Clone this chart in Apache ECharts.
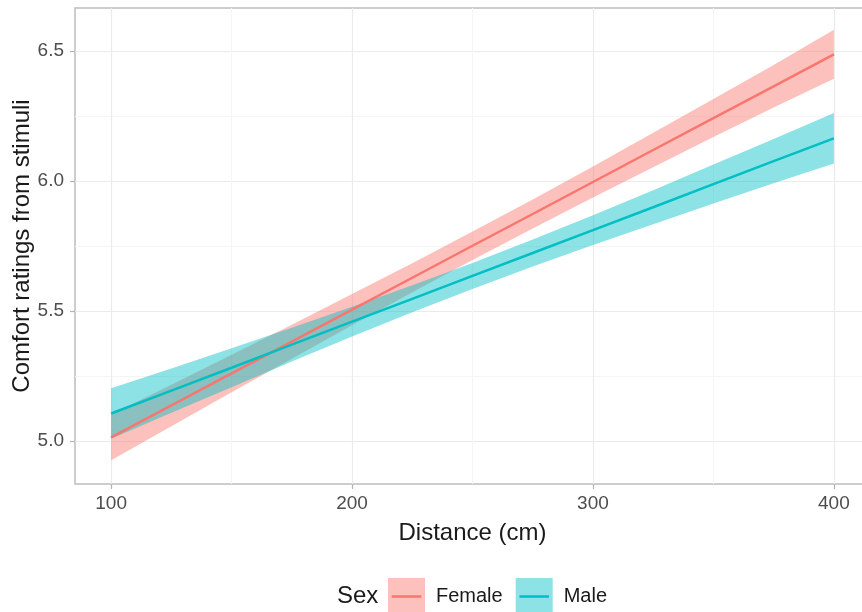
<!DOCTYPE html>
<html>
<head>
<meta charset="utf-8">
<script src="https://cdn.jsdelivr.net/npm/echarts@6/dist/echarts.min.js"></script>
<style>html,body{margin:0;padding:0;background:#fff;}#c{width:862px;height:612px;}</style>
</head>
<body>
<div id="c"></div>
<script>
// ---- data ----
var distance = [100, 125, 150, 175, 200, 225, 250, 275, 300, 325, 350, 375, 400];
var femaleFit   = [5.014, 5.137, 5.260, 5.382, 5.505, 5.628, 5.751, 5.873, 5.996, 6.119, 6.242, 6.364, 6.487];
var femaleLower = [4.926, 5.057, 5.188, 5.317, 5.445, 5.572, 5.696, 5.817, 5.936, 6.053, 6.169, 6.282, 6.393];
var femaleUpper = [5.102, 5.217, 5.332, 5.447, 5.565, 5.684, 5.806, 5.929, 6.056, 6.185, 6.315, 6.446, 6.581];
var maleFit   = [5.106, 5.194, 5.282, 5.371, 5.459, 5.547, 5.635, 5.723, 5.811, 5.899, 5.988, 6.076, 6.164];
var maleLower = [5.009, 5.109, 5.207, 5.306, 5.402, 5.495, 5.585, 5.671, 5.754, 5.834, 5.913, 5.991, 6.067];
var maleUpper = [5.203, 5.279, 5.357, 5.436, 5.516, 5.599, 5.685, 5.775, 5.868, 5.964, 6.063, 6.161, 6.261];
var xMajorTicks = [100, 200, 300, 400];
var xMinorTicks = [150, 250, 350];
var yMajorTicks = [5.0, 5.5, 6.0, 6.5];
var yMinorTicks = [5.25, 5.75, 6.25];
var sexLevels = ['Female', 'Male'];

// ---- styling ----
var FONT = 'Liberation Sans, Arial, sans-serif';
var COL = {Female: '#F8766D', Male: '#00BFC4'};
var FILL = {Female: 'rgba(248,118,109,0.45)', Male: 'rgba(0,191,196,0.45)'};

function pairs(xs, ys) { return xs.map(function (x, i) { return [x, ys[i]]; }); }
function triples(xs, lo, hi) { return xs.map(function (x, i) { return [x, lo[i], hi[i]]; }); }

var groups = {
  Female: {fit: femaleFit, lo: femaleLower, hi: femaleUpper},
  Male: {fit: maleFit, lo: maleLower, hi: maleUpper}
};

function bandRenderer(rows, fill) {
  return function (params, api) {
    if (params.dataIndex !== 0) return null;
    var top = [], bottom = [];
    for (var i = 0; i < rows.length; i++) {
      top.push(api.coord([rows[i][0], rows[i][2]]));
      bottom.push(api.coord([rows[i][0], rows[i][1]]));
    }
    var pts = top.concat(bottom.reverse());
    return {
      type: 'polygon',
      shape: {points: pts},
      style: {fill: fill, stroke: null},
      clipPath: {type: 'rect', shape: {
        x: params.coordSys.x, y: params.coordSys.y,
        width: params.coordSys.width, height: params.coordSys.height}}
    };
  };
}

var series = [];
sexLevels.forEach(function (s) {
  var g = groups[s];
  var rows = triples(distance, g.lo, g.hi);
  series.push({
    name: s + ' band', type: 'custom', data: rows, silent: true,
    encode: {x: 0, y: [1, 2]},
    renderItem: bandRenderer(rows, FILL[s])
  });
  series.push({
    name: s, type: 'line', data: pairs(distance, g.fit), symbol: 'none',
    lineStyle: {color: COL[s], width: 2.5}, itemStyle: {color: COL[s]}
  });
});

var axisLabelStyle = {fontSize: 19, color: '#4D4D4D', fontFamily: FONT};
var nameStyle = {fontSize: 24, color: '#1A1A1A', fontFamily: FONT};

var option = {
  animation: false,
  backgroundColor: '#fff',
  title: {
    text: 'Sex', left: 337, top: 584, padding: 0,
    textStyle: {fontSize: 24, fontWeight: 'normal', color: '#1A1A1A', fontFamily: FONT}
  },
  grid: {
    left: 75, top: 8, right: -8, bottom: 128, show: true, containLabel: false,
    outerBoundsMode: 'none',
    borderColor: '#BDBDBD', borderWidth: 1.5, backgroundColor: 'transparent'
  },
  xAxis: [{
    type: 'value', min: 85, max: 415,
    axisLine: {show: false},
    axisTick: {show: true, length: 5, lineStyle: {color: '#B3B3B3', width: 1.2}, customValues: xMajorTicks},
    axisLabel: Object.assign({customValues: xMajorTicks, margin: 10}, axisLabelStyle),
    splitLine: {show: true, lineStyle: {color: '#EBEBEB', width: 1.2}},
    name: 'Distance (cm)', nameLocation: 'middle', nameGap: 37, nameMoveOverlap: false, nameTextStyle: nameStyle
  }, {
    type: 'value', min: 85, max: 415, position: 'bottom',
    axisLine: {show: false},
    axisTick: {show: false, customValues: xMinorTicks},
    axisLabel: {show: false, customValues: xMinorTicks},
    splitLine: {show: true, lineStyle: {color: '#F5F5F5', width: 1}}
  }],
  yAxis: [{
    type: 'value', min: 4.835, max: 6.665,
    axisLine: {show: false},
    axisTick: {show: true, length: 5, lineStyle: {color: '#B3B3B3', width: 1.2}, customValues: yMajorTicks},
    axisLabel: Object.assign({customValues: yMajorTicks, margin: 11, formatter: function (v) { return v.toFixed(1); }}, axisLabelStyle),
    splitLine: {show: true, lineStyle: {color: '#EBEBEB', width: 1.2}},
    name: 'Comfort ratings from stimuli', nameLocation: 'middle', nameGap: 41, nameMoveOverlap: false, nameTextStyle: nameStyle
  }, {
    type: 'value', min: 4.835, max: 6.665, position: 'left',
    axisLine: {show: false},
    axisTick: {show: false, customValues: yMinorTicks},
    axisLabel: {show: false, customValues: yMinorTicks},
    splitLine: {show: true, lineStyle: {color: '#F5F5F5', width: 1}}
  }],
  legend: [{
    left: 388, top: 578, orient: 'horizontal', itemWidth: 37, itemHeight: 37, itemGap: 13,
    padding: 0, selectedMode: false,
    data: sexLevels.map(function (s) { return {name: s, icon: 'rect', itemStyle: {color: FILL[s]}}; }),
    textStyle: {fontSize: 20, color: '#1A1A1A', fontFamily: FONT, padding: [0, 0, 0, 6]}
  }, {
    left: 388, top: 578, orient: 'horizontal', itemWidth: 37, itemHeight: 37, itemGap: 13,
    padding: 0, selectedMode: false, z: 10,
    data: sexLevels.map(function (s) {
      return {name: s, icon: 'path://M0,0L0.001,0Z M10,46.5H90V53.5H10Z M100,100L99.999,100Z', itemStyle: {color: COL[s]}};
    }),
    textStyle: {fontSize: 20, color: 'rgba(0,0,0,0)', fontFamily: FONT, padding: [0, 0, 0, 6]}
  }],
  series: series
};

var chart = echarts.init(document.getElementById('c'), null, {renderer: 'canvas'});
chart.setOption(option);
</script>
</body>
</html>
